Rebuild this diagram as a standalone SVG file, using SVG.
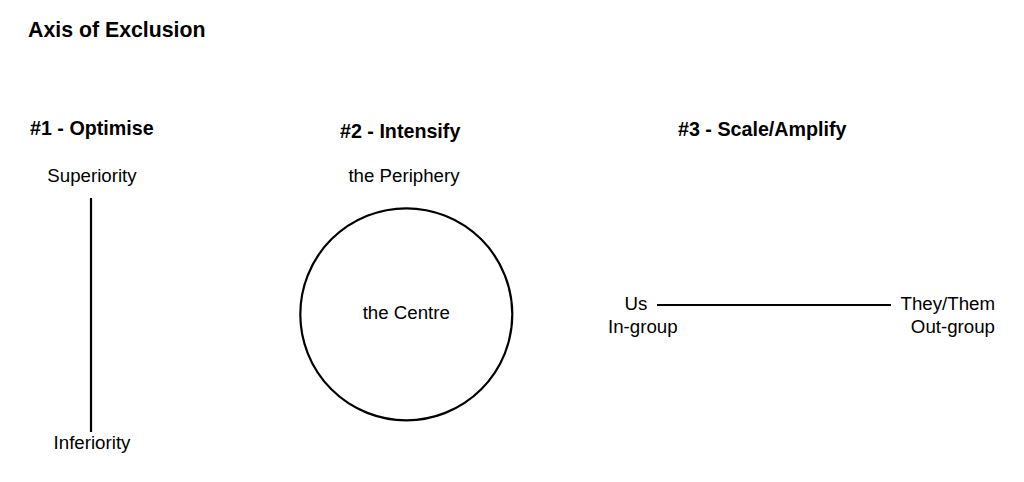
<svg xmlns="http://www.w3.org/2000/svg" width="1024" height="482" viewBox="0 0 1024 482">
<style>
  text { font-family: "Liberation Sans", Arial, sans-serif; fill: #000; }
  .title { font-size: 21.3px; font-weight: bold; }
  .head { font-size: 19.7px; font-weight: bold; }
  .lbl { font-size: 18.7px; }
  .mid { text-anchor: middle; }
  .end { text-anchor: end; }
  .ln { stroke: #000; stroke-width: 2.2; fill: none; }
</style>
<rect width="1024" height="482" fill="#fff"/>
<g id="title"><text class="title" x="28" y="37">Axis of Exclusion</text></g>

<g id="connectors">
  <line class="ln" x1="91" y1="198" x2="91" y2="432"/>
  <line class="ln" x1="657" y1="305" x2="891" y2="305"/>
</g>

<g id="optimise">
  <text class="head" x="30" y="135">#1 - Optimise</text>
  <text class="lbl mid" x="92" y="181.5">Superiority</text>
  <text class="lbl mid" x="92" y="449">Inferiority</text>
</g>

<g id="intensify">
  <text class="head" x="340" y="138">#2 - Intensify</text>
  <text class="lbl mid" x="404" y="181.5">the Periphery</text>
  <circle class="ln" cx="406.3" cy="314.3" r="106"/>
  <text class="lbl mid" x="406.3" y="319.3">the Centre</text>
</g>

<g id="scale">
  <text class="head" x="678" y="136">#3 - Scale/Amplify</text>
  <text class="lbl mid" x="636" y="310">Us</text>
  <text class="lbl mid" x="642.8" y="333.3">In-group</text>
  <text class="lbl end" x="995" y="310">They/Them</text>
  <text class="lbl end" x="995" y="333.3">Out-group</text>
</g>
</svg>
